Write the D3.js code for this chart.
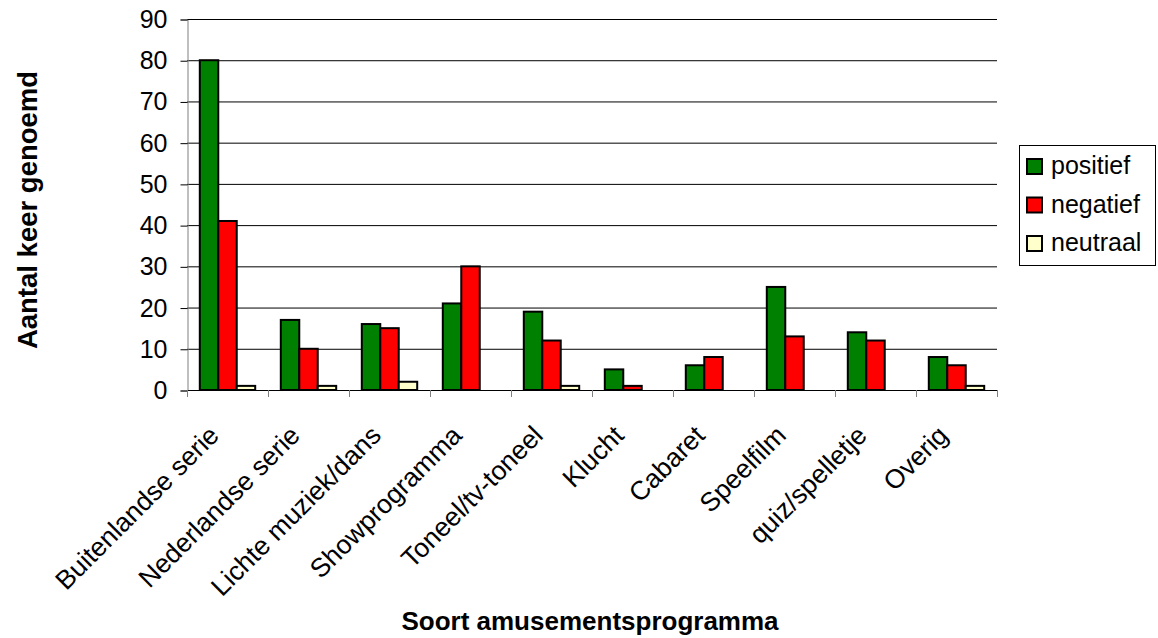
<!DOCTYPE html>
<html><head><meta charset="utf-8">
<script src="https://cdn.jsdelivr.net/npm/d3@7"></script>
<style>body{margin:0;background:#fff}svg{display:block}text{font-family:"Liberation Sans",Arial,sans-serif}</style>
</head><body>
<script>
const categories = ["Buitenlandse serie","Nederlandse serie","Lichte muziek/dans","Showprogramma","Toneel/tv-toneel","Klucht","Cabaret","Speelfilm","quiz/spelletje","Overig"];
const seriesNames = ["positief","negatief","neutraal"];
const positief = [80,17,16,21,19,5,6,25,14,8];
const negatief = [41,10,15,30,12,1,8,13,12,6];
const neutraal = [1,1,2,0,1,0,0,0,0,1];
const yTicks = [0,10,20,30,40,50,60,70,80,90];
const colors = ["#008000","#ff0000","#ffffcc"];

const W=1158,H=638;
const svg=d3.select("body").append("svg").attr("width",W).attr("height",H);
const pLeft=187,pRight=997,pTop=19,pBottom=390;
const x0=d3.scaleBand().domain(categories).range([pLeft,pRight]).paddingInner(0.316).paddingOuter(0.158);
const x1=d3.scaleBand().domain(seriesNames).range([0,x0.bandwidth()]);
const y=d3.scaleLinear().domain([0,90]).range([pBottom,pTop]);

// gridlines
svg.append("g").selectAll("line").data(yTicks.filter(d=>d>0)).join("line")
  .attr("x1",pLeft).attr("x2",pRight).attr("y1",d=>y(d)+0.5).attr("y2",d=>y(d)+0.5)
  .attr("stroke","#000").attr("stroke-width",1);

// y axis
const ya=svg.append("g").attr("transform",`translate(${pLeft+0.5},0.5)`)
  .call(d3.axisLeft(y).tickValues(yTicks).tickSize(7).tickPadding(13));
ya.select(".domain").attr("stroke","#808080");
ya.selectAll(".tick line").attr("stroke","#000");
ya.selectAll("text").attr("font-size",25).attr("fill","#000").style("font-family","'Liberation Sans',Arial,sans-serif");

// bars
const data=[positief,negatief,neutraal];
const g=svg.append("g");
categories.forEach((c,i)=>{
  seriesNames.forEach((s,j)=>{
    const v=data[j][i];
    if(v<=0) return;
    g.append("rect").attr("x",x0(c)+x1(s)).attr("y",y(v)).attr("width",x1.bandwidth()).attr("height",y(0)-y(v))
      .attr("fill",colors[j]).attr("stroke","#000").attr("stroke-width",2);
  });
});

// x axis line and ticks
svg.append("line").attr("x1",pLeft).attr("x2",pRight).attr("y1",pBottom+0.5).attr("y2",pBottom+0.5).attr("stroke","#000");
const bounds=categories.map(c=>x0(c)-x0.step()*x0.paddingInner()/2).concat([pRight]);
svg.append("g").selectAll("line").data(bounds).join("line")
  .attr("x1",d=>Math.round(d)+0.5).attr("x2",d=>Math.round(d)+0.5).attr("y1",pBottom).attr("y2",pBottom+7)
  .attr("stroke","#808080");

// x labels
svg.append("g").selectAll("text").data(categories).join("text")
  .attr("transform",c=>`translate(${x0(c)+x0.bandwidth()/2-7},${pBottom+47}) rotate(-45)`)
  .attr("text-anchor","end").attr("font-size",26.5).text(d=>d);

// titles
svg.append("text").attr("x",590).attr("y",630).attr("text-anchor","middle").attr("font-size",26).attr("font-weight","bold").text("Soort amusementsprogramma");
svg.append("text").attr("transform","translate(37,210) rotate(-90)").attr("text-anchor","middle").attr("font-size",27.5).attr("font-weight","bold").text("Aantal keer genoemd");

// legend
const lg=svg.append("g");
lg.append("rect").attr("x",1019.5).attr("y",145.5).attr("width",136).attr("height",120).attr("fill","#fff").attr("stroke","#000");
seriesNames.forEach((s,j)=>{
  const ty=159+j*38.5;
  lg.append("rect").attr("x",1027).attr("y",ty).attr("width",15).attr("height",15).attr("fill",colors[j]).attr("stroke","#000").attr("stroke-width",2);
  lg.append("text").attr("x",1051).attr("y",ty+15).attr("font-size",25).text(s);
});
</script>
</body></html>
